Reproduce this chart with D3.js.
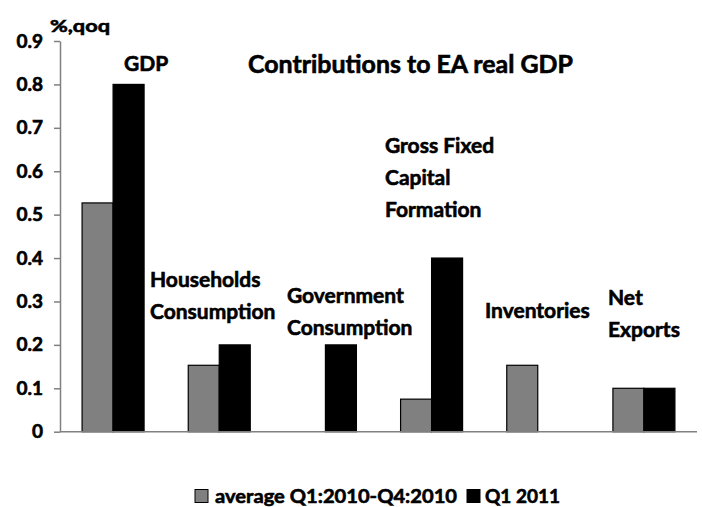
<!DOCTYPE html>
<html>
<head>
<meta charset="utf-8">
<script src="https://cdn.jsdelivr.net/npm/d3@7"></script>
<style>
  html, body { margin: 0; padding: 0; background: #fff; }
  svg text { font-family: Lato, "Open Sans", sans-serif; font-weight: 700; fill: #000;
             stroke: #000; stroke-width: 0.6px; }
</style>
</head>
<body>
<svg id="chart" width="702" height="507"></svg>
<script>
// Contributions to euro-area real GDP growth, % q/q
const categories = ["GDP", "Households Consumption", "Government Consumption",
  "Gross Fixed Capital Formation", "Inventories", "Net Exports"];
const seriesNames = ["average Q1:2010-Q4:2010", "Q1 2011"];
const avg2010 = [0.527, 0.153, 0, 0.075, 0.153, 0.1];
const q1_2011 = [0.8, 0.2, 0.2, 0.4, 0, 0.1];
const yTicks = [0, 0.1, 0.2, 0.3, 0.4, 0.5, 0.6, 0.7, 0.8, 0.9];

// category labels, split into lines, with anchor positions (left x, first baseline)
const categoryLabels = [
  { lines: ["GDP"], x: 124, y: 71 },
  { lines: ["Households", "Consumption"], x: 150, y: 287 },
  { lines: ["Government", "Consumption"], x: 287, y: 303 },
  { lines: ["Gross Fixed", "Capital", "Formation"], x: 385, y: 153 },
  { lines: ["Inventories"], x: 485, y: 318 },
  { lines: ["Net", "Exports"], x: 608, y: 305 }
];

const svg = d3.select("#chart");
const plotLeft = 60, plotRight = 697, plotTop = 41, plotBottom = 431.7;

const x0 = d3.scaleBand().domain(categories).range([plotLeft, plotRight])
  .paddingInner(0.416).paddingOuter(0.208);
const x1 = d3.scaleBand().domain(seriesNames).range([0, x0.bandwidth()]);
const y = d3.scaleLinear().domain([0, 0.9]).range([plotBottom, plotTop]);
const color = d3.scaleOrdinal().domain(seriesNames).range(["#808080", "#000000"]);

// bars
const rows = categories.map((c, i) => ({ c, vals: [avg2010[i], q1_2011[i]] }));
const g = svg.append("g").selectAll("g").data(rows).join("g")
  .attr("transform", d => `translate(${x0(d.c)},0)`);
g.selectAll("rect")
  .data(d => d.vals.map((v, k) => ({ s: seriesNames[k], v })).filter(e => e.v > 0))
  .join("rect")
  .attr("x", d => x1(d.s))
  .attr("width", x1.bandwidth())
  .attr("y", d => y(d.v))
  .attr("height", d => y(0) - y(d.v))
  .attr("fill", d => color(d.s))
  .attr("stroke", "#000")
  .attr("stroke-width", 1.2);

// y axis
const yAxis = svg.append("g").attr("transform", `translate(${plotLeft},0)`)
  .call(d3.axisLeft(y).tickValues(yTicks).tickSize(6).tickSizeOuter(0)
    .tickPadding(11).tickFormat(d => d === 0 ? "0" : d3.format(".1f")(d)));
yAxis.select(".domain").attr("stroke", "#808080").attr("stroke-width", 1.5);
yAxis.selectAll(".tick line").attr("stroke", "#808080").attr("stroke-width", 1.5);
yAxis.selectAll(".tick text").style("font-size", "19px").attr("fill", "#000");

// x baseline
svg.append("line").attr("x1", plotLeft).attr("x2", plotRight)
  .attr("y1", y(0)).attr("y2", y(0))
  .attr("stroke", "#808080").attr("stroke-width", 1.5);

// unit label
svg.append("text").attr("x", 50).attr("y", 32).style("font-size", "17px")
  .attr("textLength", 60).attr("lengthAdjust", "spacingAndGlyphs").text("%,qoq");

// title
svg.append("text").attr("x", 248).attr("y", 73).style("font-size", "24px")
  .attr("textLength", 325).attr("lengthAdjust", "spacingAndGlyphs")
  .text("Contributions to EA real GDP");

// category labels
categoryLabels.forEach(l => {
  const t = svg.append("text").attr("x", l.x).attr("y", l.y).style("font-size", "21px");
  l.lines.forEach((s, i) => {
    t.append("tspan").attr("x", l.x).attr("dy", i === 0 ? 0 : 32).text(s);
  });
});

// legend
const legend = [
  { name: seriesNames[0], box: 195, tx: 215, w: 242 },
  { name: seriesNames[1], box: 467, tx: 485, w: 75 }
];
legend.forEach(e => {
  svg.append("rect").attr("x", e.box).attr("y", 489.5).attr("width", 13).attr("height", 13)
    .attr("fill", color(e.name)).attr("stroke", "#000").attr("stroke-width", 1);
  svg.append("text").attr("x", e.tx).attr("y", 503).style("font-size", "19px")
    .attr("textLength", e.w).attr("lengthAdjust", "spacingAndGlyphs").text(e.name);
});
</script>
</body>
</html>
